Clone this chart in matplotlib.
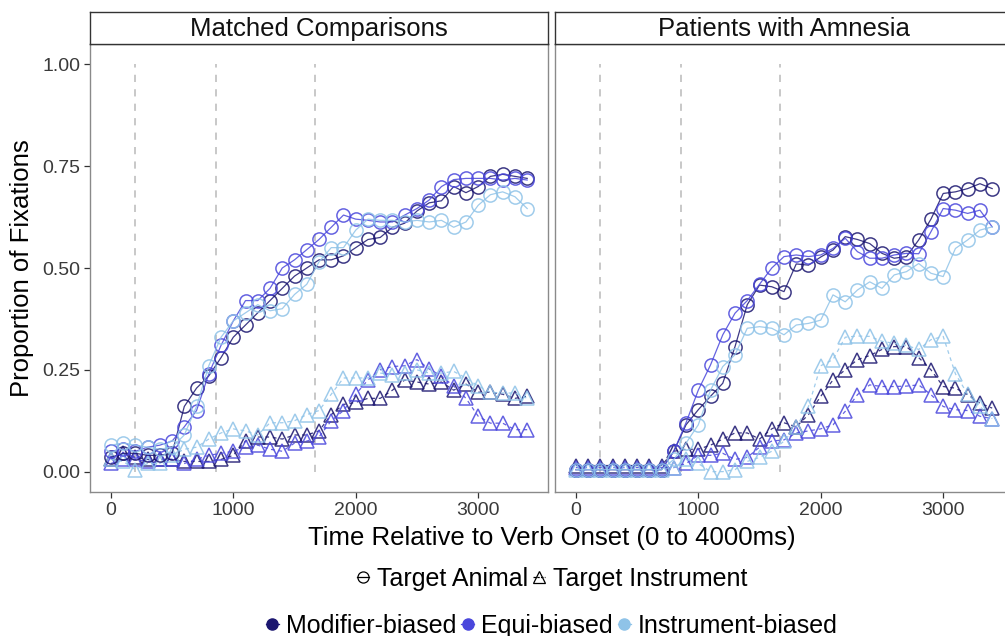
import matplotlib
matplotlib.use('Agg')
import matplotlib.pyplot as plt
from matplotlib.lines import Line2D

plt.rcParams['font.family'] = ['Liberation Sans', 'DejaVu Sans']

# time bins (ms after verb onset)
time_ms = [0, 100, 200, 300, 400, 500, 600, 700, 800, 900, 1000, 1100, 1200,
           1300, 1400, 1500, 1600, 1700, 1800, 1900, 2000, 2100, 2200, 2300,
           2400, 2500, 2600, 2700, 2800, 2900, 3000, 3100, 3200, 3300, 3400]
landmarks_ms = [200, 860, 1670]

panels = ['Matched Comparisons', 'Patients with Amnesia']
groups = ['Modifier-biased', 'Equi-biased', 'Instrument-biased']
colors = ['#1b1670', '#4a47dc', '#8fc3e8']

# Matched comparisons
mc_animal_mod = [0.035, 0.045, 0.045, 0.04, 0.04, 0.045, 0.16, 0.205, 0.235, 0.28, 0.33, 0.36,
                 0.39, 0.42, 0.45, 0.48, 0.50, 0.52, 0.52, 0.53, 0.55, 0.57, 0.575, 0.60,
                 0.61, 0.64, 0.66, 0.665, 0.70, 0.685, 0.70, 0.725, 0.73, 0.725, 0.72]
mc_animal_equi = [0.05, 0.055, 0.05, 0.06, 0.065, 0.075, 0.11, 0.15, 0.24, 0.31, 0.37, 0.42,
                  0.42, 0.45, 0.50, 0.52, 0.545, 0.57, 0.60, 0.63, 0.62, 0.617, 0.613, 0.613,
                  0.63, 0.646, 0.667, 0.70, 0.717, 0.72, 0.72, 0.72, 0.716, 0.72, 0.716]
mc_animal_inst = [0.065, 0.07, 0.065, 0.06, 0.055, 0.06, 0.09, 0.16, 0.26, 0.33, 0.37, 0.39,
                  0.41, 0.395, 0.40, 0.435, 0.46, 0.515, 0.55, 0.55, 0.593, 0.62, 0.617, 0.617,
                  0.613, 0.617, 0.613, 0.617, 0.60, 0.613, 0.654, 0.68, 0.687, 0.675, 0.646]
mc_instr_mod = [0.03, 0.045, 0.035, 0.03, 0.03, 0.03, 0.025, 0.025, 0.025, 0.03, 0.04, 0.075,
                0.085, 0.085, 0.08, 0.09, 0.09, 0.10, 0.14, 0.165, 0.17, 0.18, 0.18, 0.20,
                0.225, 0.22, 0.215, 0.22, 0.20, 0.215, 0.195, 0.195, 0.19, 0.18, 0.185]
mc_instr_equi = [0.02, 0.03, 0.03, 0.025, 0.03, 0.03, 0.02, 0.03, 0.04, 0.045, 0.05, 0.06,
                 0.065, 0.055, 0.05, 0.07, 0.075, 0.085, 0.125, 0.15, 0.19, 0.225, 0.25, 0.258,
                 0.26, 0.275, 0.252, 0.235, 0.21, 0.18, 0.136, 0.119, 0.119, 0.103, 0.103]
mc_instr_inst = [0.03, 0.025, 0.005, 0.02, 0.02, 0.04, 0.055, 0.06, 0.08, 0.095, 0.105, 0.10,
                 0.09, 0.12, 0.12, 0.125, 0.14, 0.15, 0.19, 0.23, 0.23, 0.23, 0.242, 0.238,
                 0.242, 0.25, 0.242, 0.242, 0.246, 0.23, 0.21, 0.195, 0.193, 0.193, 0.18]

# Patients with amnesia
pa_animal_mod = [0.005, 0.005, 0.005, 0.005, 0.005, 0.005, 0.005, 0.005, 0.05, 0.115, 0.152, 0.185,
                 0.217, 0.307, 0.41, 0.458, 0.454, 0.442, 0.51, 0.507, 0.527, 0.544, 0.577, 0.57,
                 0.56, 0.536, 0.524, 0.528, 0.569, 0.62, 0.683, 0.687, 0.695, 0.707, 0.695]
pa_animal_equi = [0.005, 0.005, 0.005, 0.005, 0.005, 0.005, 0.005, 0.005, 0.05, 0.12, 0.20, 0.262,
                  0.336, 0.389, 0.42, 0.46, 0.50, 0.528, 0.532, 0.528, 0.532, 0.548, 0.573, 0.54,
                  0.524, 0.524, 0.532, 0.536, 0.535, 0.589, 0.646, 0.642, 0.634, 0.642, 0.601]
pa_animal_inst = [0.005, 0.005, 0.005, 0.005, 0.005, 0.005, 0.005, 0.005, 0.03, 0.07, 0.115, 0.20,
                  0.258, 0.287, 0.352, 0.356, 0.352, 0.336, 0.36, 0.364, 0.372, 0.434, 0.417, 0.446,
                  0.466, 0.45, 0.483, 0.491, 0.511, 0.487, 0.479, 0.548, 0.569, 0.593, 0.601]
pa_instr_mod = [0.015, 0.015, 0.015, 0.015, 0.015, 0.015, 0.015, 0.015, 0.05, 0.055, 0.055, 0.065,
                0.08, 0.095, 0.095, 0.08, 0.105, 0.12, 0.11, 0.14, 0.185, 0.225, 0.25, 0.275,
                0.285, 0.30, 0.307, 0.307, 0.28, 0.25, 0.209, 0.205, 0.189, 0.168, 0.156]
pa_instr_equi = [0.01, 0.01, 0.01, 0.01, 0.01, 0.01, 0.01, 0.01, 0.01, 0.02, 0.04, 0.04,
                 0.045, 0.03, 0.035, 0.06, 0.075, 0.078, 0.095, 0.10, 0.105, 0.115, 0.148, 0.189,
                 0.213, 0.209, 0.209, 0.21, 0.213, 0.189, 0.16, 0.152, 0.15, 0.136, 0.13]
pa_instr_inst = [0.005, 0.005, 0.005, 0.005, 0.005, 0.005, 0.005, 0.005, 0.01, 0.03, 0.02, 0.0,
                 0.0, 0.005, 0.025, 0.035, 0.05, 0.075, 0.11, 0.16, 0.26, 0.275, 0.33, 0.333,
                 0.332, 0.32, 0.315, 0.31, 0.30, 0.324, 0.332, 0.24, 0.19, 0.16, 0.13]

panel_data = [
    ([mc_animal_mod, mc_animal_equi, mc_animal_inst], [mc_instr_mod, mc_instr_equi, mc_instr_inst]),
    ([pa_animal_mod, pa_animal_equi, pa_animal_inst], [pa_instr_mod, pa_instr_equi, pa_instr_inst]),
]

W, H = 1005, 636
fig = plt.figure(figsize=(W / 100, H / 100), dpi=100)

panel_left = [90, 555]
panel_w = 458
top, bottom, strip_top = 44, 492, 12

for p, (animal, instr) in enumerate(panel_data):
    ax = fig.add_axes([panel_left[p] / W, 1 - bottom / H, panel_w / W, (bottom - top) / H])
    ax.vlines(landmarks_ms, 0, 1, colors='#c4c4c4', linestyles=(0, (4, 4)), lw=1.3, zorder=1)
    for g in range(3):
        ax.plot(time_ms, instr[g], color=colors[g], lw=0.9, ls=(0, (3, 3)),
                marker='^', ms=10, mfc='none', mew=1.1, alpha=0.85, zorder=2)
    for g in range(3):
        ax.plot(time_ms, animal[g], color=colors[g], lw=0.9, ls='-',
                marker='o', ms=9.5, mfc='none', mew=1.1, alpha=0.85, zorder=3)
    ax.set_xlim(-170, 3570)
    ax.set_ylim(-0.05, 1.05)
    ax.set_xticks([0, 1000, 2000, 3000])
    ax.set_yticks([0, 0.25, 0.5, 0.75, 1.0])
    ax.tick_params(length=4, width=0.9, color='#333333', labelsize=14, labelcolor='#3a3a3a', pad=3)
    if p == 0:
        ax.set_yticklabels(['0.00', '0.25', '0.50', '0.75', '1.00'])
    else:
        ax.tick_params(axis='y', left=False, labelleft=False)
    for s in ax.spines.values():
        s.set_color('#8a8a8a')
        s.set_linewidth(1.0)

    # facet strip
    sax = fig.add_axes([panel_left[p] / W, 1 - top / H, panel_w / W, (top - strip_top) / H])
    sax.set_xticks([])
    sax.set_yticks([])
    for s in sax.spines.values():
        s.set_color('#333333')
        s.set_linewidth(1.0)
    sax.text(0.5, 0.47, panels[p], ha='center', va='center', fontsize=18.5, color='#111111',
             transform=sax.transAxes)

fig.text(22 / W, 1 - 268 / H, 'Proportion of Fixations', rotation=90, ha='center', va='center',
         fontsize=18.5)
fig.text(552 / W, 1 - 538 / H, 'Time Relative to Verb Onset (0 to 4000ms)', ha='center',
         va='center', fontsize=18.5)

# legends
aoi_handles = [Line2D([], [], color='black', lw=0.9, ls='-', marker='o', ms=8, mfc='none', mew=0.9),
               Line2D([], [], color='black', lw=0.9, ls=(0, (2, 1)), marker='^', ms=8, mfc='none', mew=0.9)]
fig.legend(aoi_handles, ['Target Animal', 'Target Instrument'], ncol=2, loc='center',
           bbox_to_anchor=(552 / W, 1 - 579 / H), frameon=False, fontsize=18,
           handlelength=0.5, handletextpad=0.3, columnspacing=0.2)
grp_handles = [Line2D([], [], color=c, lw=0.9, marker='o', ms=8) for c in colors]
fig.legend(grp_handles, groups, ncol=3, loc='center',
           bbox_to_anchor=(552 / W, 1 - 626 / H), frameon=False, fontsize=18,
           handlelength=0.5, handletextpad=0.3, columnspacing=0.2)

fig.savefig('out.png', dpi=100)
